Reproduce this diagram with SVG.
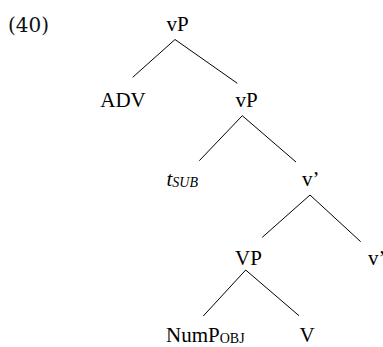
<svg xmlns="http://www.w3.org/2000/svg" width="383" height="347" viewBox="0 0 383 347">
<style>
text.n{font-family:'Liberation Serif','Times New Roman','DejaVu Serif',serif;font-size:21px;fill:#000}
tspan.s{font-size:14px}
.e line{stroke:#000;stroke-width:1}
</style>
<rect width="383" height="347" fill="#fff"/>
<text x="8" y="32" font-family="DejaVu Serif, serif" font-size="20" fill="#111">(40)</text>
<g class="e" id="edges">
<line x1="175" y1="39.5" x2="132.7" y2="77.3"/>
<line x1="175" y1="39.5" x2="237.3" y2="83.3"/>
<line x1="242.3" y1="115.7" x2="199.3" y2="160.7"/>
<line x1="242.3" y1="115.7" x2="296" y2="162"/>
<line x1="310" y1="195" x2="262.3" y2="237.3"/>
<line x1="310" y1="195" x2="360.7" y2="241.7"/>
<line x1="245.7" y1="270" x2="203.3" y2="316"/>
<line x1="245.7" y1="270" x2="299" y2="315.7"/>
</g>
<g id="vP1"><text class="n" x="177.5" y="30.5" text-anchor="middle" font-family="Liberation Serif, serif">vP</text></g>
<g id="ADV"><text class="n" x="123" y="107" text-anchor="middle" font-family="Liberation Serif, serif">ADV</text></g>
<g id="vP2"><text class="n" x="246.5" y="107" text-anchor="middle" font-family="Liberation Serif, serif">vP</text></g>
<g id="tSUB"><text class="n" x="166.5" y="186" font-style="italic" font-family="Liberation Serif, serif">t<tspan class="s" dy="1">SUB</tspan></text></g>
<g id="vbar1"><text class="n" x="302" y="186" font-family="Liberation Serif, serif">v’</text></g>
<g id="VP"><text class="n" x="248.5" y="265" text-anchor="middle" font-family="Liberation Serif, serif">VP</text></g>
<g id="vhead"><text class="n" x="368" y="265" font-family="Liberation Serif, serif">v’</text></g>
<g id="NumP"><text class="n" x="166" y="341.7" font-family="Liberation Serif, serif">NumP<tspan class="s" dy="1">OBJ</tspan></text></g>
<g id="V"><text class="n" x="307" y="341.7" text-anchor="middle" font-family="Liberation Serif, serif">V</text></g>
</svg>
